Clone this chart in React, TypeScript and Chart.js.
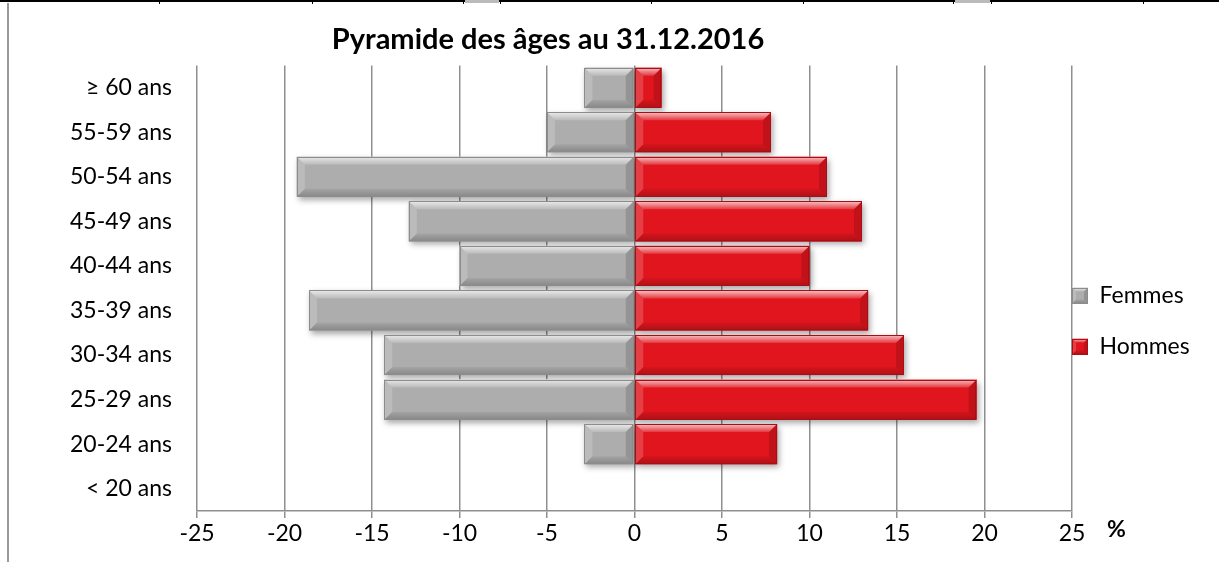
import React, { useEffect, useRef } from "react";
import { Chart, registerables } from "chart.js";

Chart.register(...registerables);

const categories = [
  "≥ 60 ans",
  "55-59 ans",
  "50-54 ans",
  "45-49 ans",
  "40-44 ans",
  "35-39 ans",
  "30-34 ans",
  "25-29 ans",
  "20-24 ans",
  "< 20 ans",
];
const femmes = [-2.86, -5.0, -19.3, -12.9, -10.0, -18.6, -14.3, -14.3, -2.86, 0];
const hommes = [1.55, 7.8, 11.0, 13.0, 10.0, 13.35, 15.4, 19.55, 8.15, 0];
const xTicks = [-25, -20, -15, -10, -5, 0, 5, 10, 15, 20, 25];
const titleText = "Pyramide des âges au 31.12.2016";
const unitLabel = "%";

const FONT = "Lato, 'Open Sans', sans-serif";
const GRAY = "#adadad";
const GRAY_BORDER = "#8c8c8c";
const RED = "#e0151d";
const RED_BORDER = "#a50f15";
const LEGEND_PAD = 28;
const LEGEND_FONT = 23;
const LEGEND_BOX = 16;

function barRect(el: any) {
  const p = el.getProps(["x", "y", "base", "height"], true);
  const l = Math.min(p.x, p.base);
  const r = Math.max(p.x, p.base);
  return { l, r, t: p.y - p.height / 2, b: p.y + p.height / 2 };
}

function drawBevel(ctx: any, l: number, t: number, r: number, b: number, maxBv: number, border: string) {
  const bv = Math.min(maxBv, (r - l) / 2, (b - t) / 2);
  const poly = (pts: number[][], fill: any) => {
    ctx.beginPath();
    ctx.moveTo(pts[0][0], pts[0][1]);
    for (let k = 1; k < pts.length; k++) ctx.lineTo(pts[k][0], pts[k][1]);
    ctx.closePath();
    ctx.fillStyle = fill;
    ctx.fill();
  };
  const gTop = ctx.createLinearGradient(0, t, 0, t + bv);
  gTop.addColorStop(0, "rgba(255,255,255,0.75)");
  gTop.addColorStop(1, "rgba(255,255,255,0.15)");
  poly([[l, t], [r, t], [r - bv, t + bv], [l + bv, t + bv]], gTop);
  const gBot = ctx.createLinearGradient(0, b - bv, 0, b);
  gBot.addColorStop(0, "rgba(0,0,0,0.05)");
  gBot.addColorStop(1, "rgba(0,0,0,0.22)");
  poly([[l, b], [r, b], [r - bv, b - bv], [l + bv, b - bv]], gBot);
  poly([[l, t], [l + bv, t + bv], [l + bv, b - bv], [l, b]], "rgba(255,255,255,0.18)");
  poly([[r, t], [r - bv, t + bv], [r - bv, b - bv], [r, b]], "rgba(0,0,0,0.14)");
  ctx.strokeStyle = border;
  ctx.lineWidth = 1;
  ctx.strokeRect(Math.round(l) + 0.5, Math.round(t) + 0.5, Math.round(r - l) - 1, Math.round(b - t) - 1);
}

const bevelPlugin = {
  id: "bevel",
  beforeDatasetsDraw(chart: any) {
    const ctx = chart.ctx;
    ctx.save();
    chart.data.datasets.forEach((ds: any, i: number) => {
      const meta = chart.getDatasetMeta(i);
      meta.data.forEach((el: any) => {
        const { l, r, t, b } = barRect(el);
        if (r - l < 1) return;
        ctx.shadowColor = "rgba(0,0,0,0.35)";
        ctx.shadowBlur = 6;
        ctx.shadowOffsetX = 2;
        ctx.shadowOffsetY = 3;
        ctx.fillStyle = ds.backgroundColor;
        ctx.fillRect(l, t, r - l, b - t);
      });
    });
    ctx.restore();
  },
  afterDatasetsDraw(chart: any) {
    const ctx = chart.ctx;
    ctx.save();
    chart.data.datasets.forEach((ds: any, i: number) => {
      const meta = chart.getDatasetMeta(i);
      meta.data.forEach((el: any) => {
        const { l, r, t, b } = barRect(el);
        if (r - l < 1) return;
        drawBevel(ctx, l, t, r, b, 8, ds.borderColor);
      });
    });
    ctx.restore();
  },
  afterDraw(chart: any) {
    const ctx = chart.ctx;
    const area = chart.chartArea;
    ctx.save();
    ctx.font = `bold 23px ${FONT}`;
    ctx.fillStyle = "#000";
    ctx.textBaseline = "middle";
    ctx.textAlign = "left";
    ctx.fillText(unitLabel, area.right + 35, area.bottom + 19);
    const lg = chart.legend;
    if (lg) {
      chart.data.datasets.forEach((ds: any, i: number) => {
        const bx = lg.left + LEGEND_PAD;
        const by = lg.top + LEGEND_PAD + (LEGEND_FONT - LEGEND_BOX) / 2 + i * (LEGEND_FONT + LEGEND_PAD);
        drawBevel(ctx, bx, by, bx + LEGEND_BOX, by + LEGEND_BOX, 4, ds.borderColor);
      });
    }
    ctx.restore();
  },
};

const layoutPlugin = {
  id: "layoutTweaks",
  beforeLayout(chart: any) {
    const lg = chart.legend;
    if (lg && !lg._patched) {
      const orig = lg.fit.bind(lg);
      lg.fit = function () {
        orig();
        this.width = 147;
      };
      lg._patched = true;
    }
  },
  afterLayout(chart: any) {
    const lg = chart.legend;
    if (lg) {
      const w = lg.width;
      const h = lg.height;
      lg.left = chart.chartArea.right - LEGEND_PAD;
      lg.right = lg.left + w;
      lg.top = 256;
      lg.bottom = lg.top + h;
    }
    const tb = chart.titleBlock;
    if (tb) {
      tb.left = 8;
      tb.right = 1088;
    }
  },
};

export default function App() {
  const ref = useRef<HTMLCanvasElement | null>(null);

  useEffect(() => {
    if (!ref.current) return;
    const chart = new Chart(ref.current, {
      type: "bar",
      data: {
        labels: categories,
        datasets: [
          {
            label: "Femmes",
            data: femmes,
            backgroundColor: GRAY,
            borderColor: GRAY_BORDER,
            borderWidth: 0,
          },
          {
            label: "Hommes",
            data: hommes,
            backgroundColor: RED,
            borderColor: RED_BORDER,
            borderWidth: 0,
          },
        ],
      },
      options: {
        indexAxis: "y",
        responsive: false,
        animation: false,
        devicePixelRatio: 1,
        datasets: {
          bar: { categoryPercentage: 1, barPercentage: 0.9 },
        },
        layout: { padding: { left: 0, right: 0, top: 0, bottom: 0 } },
        scales: {
          x: {
            type: "linear",
            stacked: true,
            min: -25,
            max: 25,
            afterBuildTicks: (axis: any) => {
              axis.ticks = xTicks.map((v) => ({ value: v }));
            },
            afterFit: (axis: any) => {
              axis.height = 51;
            },
            ticks: {
              color: "#000",
              padding: 2,
              font: { family: FONT, size: 23 },
            },
            grid: {
              color: "#8f8f8f",
              lineWidth: 1.5,
              drawTicks: true,
              tickLength: 7,
            },
            border: { display: true, color: "#8f8f8f", width: 1.5 },
          },
          y: {
            type: "category",
            stacked: true,
            afterFit: (axis: any) => {
              axis.width = 197;
            },
            ticks: {
              color: "#000",
              padding: 25,
              font: { family: FONT, size: 23 },
            },
            grid: { display: false, drawTicks: false },
            border: { display: false },
          },
        },
        plugins: {
          title: {
            display: true,
            text: titleText,
            color: "#000",
            font: { family: FONT, size: 29, weight: "bold" },
            padding: { top: 22, bottom: 8.6 },
          },
          legend: {
            display: true,
            position: "right",
            align: "start",
            labels: {
              color: "#000",
              boxWidth: LEGEND_BOX,
              boxHeight: LEGEND_BOX,
              padding: LEGEND_PAD,
              font: { family: FONT, size: LEGEND_FONT },
            },
          },
          tooltip: { enabled: false },
        },
      },
      plugins: [bevelPlugin, layoutPlugin],
    } as any);
    return () => chart.destroy();
  }, []);

  const tickXs = [159, 312, 463, 500, 651, 803, 953, 991, 1143];

  return (
    <div style={{ position: "fixed", left: 0, top: 0, width: 1219, height: 562, background: "#fff", overflow: "hidden" }}>
      <canvas ref={ref} width={1219} height={562} style={{ position: "absolute", left: 0, top: 0, width: 1219, height: 562 }} />
      <div style={{ position: "absolute", left: 0, top: 0, width: 1219, height: 2, background: "#000" }} />
      <div style={{ position: "absolute", left: 465, top: 0, width: 34, height: 3, background: "#bbb" }} />
      <div style={{ position: "absolute", left: 955, top: 0, width: 35, height: 3, background: "#bbb" }} />
      {tickXs.map((x) => (
        <div key={x} style={{ position: "absolute", left: x, top: 0, width: 1, height: 4, background: "#000" }} />
      ))}
      <div style={{ position: "absolute", left: 7, top: 3, width: 2, height: 559, background: "#999" }} />
    </div>
  );
}
